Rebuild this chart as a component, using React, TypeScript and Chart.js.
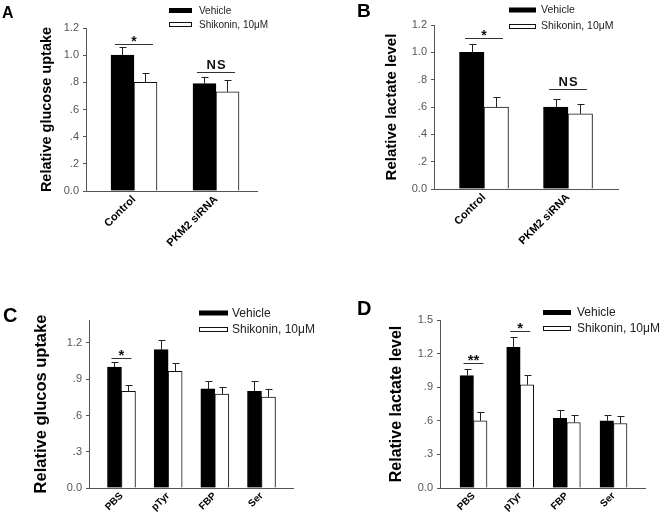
import React, { useEffect, useRef } from "react";
import { Chart, registerables } from "chart.js";

Chart.register(...registerables);

const FONT = "'Liberation Sans', Arial, Helvetica, sans-serif";
const AXIS = "#555";
const seriesNames = ["Vehicle", "Shikonin, 10\u03bcM"];

// ---- Panel A : relative glucose uptake ----
const aCategories = ["Control", "PKM2 siRNA"];
const aVehicle = [1.0, 0.79];
const aVehicleErr = [1.06, 0.84];
const aShikonin = [0.8, 0.73];
const aShikoninErr = [0.87, 0.82];
const aTicks = [0, 0.2, 0.4, 0.6, 0.8, 1.0, 1.2];
const aTickLabels = ["0.0", ".2", ".4", ".6", ".8", "1.0", "1.2"];
const aSigCategory = [0, 1];
const aSigValue = [1.08, 0.875];
const aSigLabel = ["*", "NS"];

// ---- Panel B : relative lactate level ----
const bCategories = ["Control", "PKM2 siRNA"];
const bVehicle = [1.0, 0.6];
const bVehicleErr = [1.06, 0.655];
const bShikonin = [0.6, 0.55];
const bShikoninErr = [0.67, 0.625];
const bTicks = [0, 0.2, 0.4, 0.6, 0.8, 1.0, 1.2];
const bTickLabels = ["0.0", ".2", ".4", ".6", ".8", "1.0", "1.2"];
const bSigCategory = [0, 1];
const bSigValue = [1.105, 0.73];
const bSigLabel = ["*", "NS"];

// ---- Panel C : relative glucos uptake ----
const cCategories = ["PBS", "pTyr", "FBP", "Ser"];
const cVehicle = [1.0, 1.145, 0.82, 0.8];
const cVehicleErr = [1.04, 1.228, 0.888, 0.888];
const cShikonin = [0.8, 0.966, 0.778, 0.753];
const cShikoninErr = [0.852, 1.034, 0.839, 0.819];
const cTicks = [0, 0.3, 0.6, 0.9, 1.2];
const cTickLabels = ["0.0", ".3", ".6", ".9", "1.2"];
const cSigCategory = [0];
const cSigValue = [1.078];
const cSigLabel = ["*"];

// ---- Panel D : relative lactate level ----
const dCategories = ["PBS", "pTyr", "FBP", "Ser"];
const dVehicle = [1.004, 1.256, 0.621, 0.6];
const dVehicleErr = [1.06, 1.345, 0.692, 0.65];
const dShikonin = [0.6, 0.921, 0.585, 0.576];
const dShikoninErr = [0.677, 1.01, 0.653, 0.647];
const dTicks = [0, 0.3, 0.6, 0.9, 1.2, 1.5];
const dTickLabels = ["0.0", ".3", ".6", ".9", "1.2", "1.5"];
const dSigCategory = [0, 1];
const dSigValue = [1.116, 1.4];
const dSigLabel = ["**", "*"];

type Panel = {
  letter: string;
  letterSize: number;
  letterX: number;
  letterY: number;
  categories: string[];
  vehicle: number[];
  vehicleErr: number[];
  shikonin: number[];
  shikoninErr: number[];
  yMax: number;
  ticks: number[];
  tickLabels: string[];
  yTitle: string;
  yTitleSize: number;
  yTitleX: number;
  area: { left: number; right: number; top: number; bottom: number };
  catPad: [number, number];
  barThickness: number;
  xFont: number;
  xPad: number;
  legend: { x: number; w: number; y1: number; y2: number; textX: number; font: number };
  sigCategory: number[];
  sigValue: number[];
  sigLabel: string[];
  sigHalf: number;
  starFont: number;
  nsFont: number;
  capHalf: number;
  left: number;
  top: number;
};

const panels: Panel[] = [
  {
    letter: "A", letterSize: 16, letterX: 2, letterY: 18,
    categories: aCategories, vehicle: aVehicle, vehicleErr: aVehicleErr,
    shikonin: aShikonin, shikoninErr: aShikoninErr,
    yMax: 1.2, ticks: aTicks, tickLabels: aTickLabels,
    yTitle: "Relative glucose uptake", yTitleSize: 14.5, yTitleX: 47,
    area: { left: 86, right: 257, top: 28, bottom: 191 },
    catPad: [0.585, 0.5], barThickness: 23, xFont: 11, xPad: 2,
    legend: { x: 169, w: 23, y1: 10.5, y2: 24.5, textX: 199, font: 10 },
    sigCategory: aSigCategory, sigValue: aSigValue, sigLabel: aSigLabel,
    sigHalf: 19, starFont: 14, nsFont: 13, capHalf: 3,
    left: 0, top: 0,
  },
  {
    letter: "B", letterSize: 19, letterX: 27, letterY: 17,
    categories: bCategories, vehicle: bVehicle, vehicleErr: bVehicleErr,
    shikonin: bShikonin, shikoninErr: bShikoninErr,
    yMax: 1.2, ticks: bTicks, tickLabels: bTickLabels,
    yTitle: "Relative lactate level", yTitleSize: 15, yTitleX: 62,
    area: { left: 104, right: 288, top: 25, bottom: 189 },
    catPad: [0.595, 0.595], barThickness: 24.5, xFont: 11, xPad: 2,
    legend: { x: 179, w: 27, y1: 10, y2: 26, textX: 211, font: 10.5 },
    sigCategory: bSigCategory, sigValue: bSigValue, sigLabel: bSigLabel,
    sigHalf: 19, starFont: 14, nsFont: 13, capHalf: 3,
    left: 330, top: 0,
  },
  {
    letter: "C", letterSize: 20, letterX: 3, letterY: 62,
    categories: cCategories, vehicle: cVehicle, vehicleErr: cVehicleErr,
    shikonin: cShikonin, shikoninErr: cShikoninErr,
    yMax: 1.39, ticks: cTicks, tickLabels: cTickLabels,
    yTitle: "Relative glucos uptake", yTitleSize: 16.5, yTitleX: 41,
    area: { left: 89, right: 293, top: 60, bottom: 228 },
    catPad: [0.696, 0.675], barThickness: 14, xFont: 10, xPad: 2,
    legend: { x: 199, w: 29, y1: 53, y2: 69, textX: 232, font: 12 },
    sigCategory: cSigCategory, sigValue: cSigValue, sigLabel: cSigLabel,
    sigHalf: 10, starFont: 15, nsFont: 13, capHalf: 3,
    left: 0, top: 260,
  },
  {
    letter: "D", letterSize: 20, letterX: 27, letterY: 55,
    categories: dCategories, vehicle: dVehicle, vehicleErr: dVehicleErr,
    shikonin: dShikonin, shikoninErr: dShikoninErr,
    yMax: 1.5, ticks: dTicks, tickLabels: dTickLabels,
    yTitle: "Relative lactate level", yTitleSize: 16, yTitleX: 67,
    area: { left: 110, right: 315, top: 60, bottom: 228 },
    catPad: [0.718, 0.675], barThickness: 13.5, xFont: 10, xPad: 2,
    legend: { x: 213, w: 28, y1: 52.5, y2: 68, textX: 247, font: 12 },
    sigCategory: dSigCategory, sigValue: dSigValue, sigLabel: dSigLabel,
    sigHalf: 10, starFont: 15, nsFont: 13, capHalf: 3,
    left: 330, top: 260,
  },
];

const W = 330;
const H = 260;

function makeDecor(p: Panel) {
  return {
    id: "panelDecor" + p.letter,
    afterDatasetsDraw(chart: any) {
      const ctx = chart.ctx as CanvasRenderingContext2D;
      const ys = chart.scales.y;
      const xs = chart.scales.x;
      const errs = [p.vehicleErr, p.shikoninErr];
      ctx.save();
      ctx.strokeStyle = "#222";
      ctx.lineWidth = 1;
      chart.data.datasets.forEach((ds: any, di: number) => {
        const meta = chart.getDatasetMeta(di);
        meta.data.forEach((bar: any, i: number) => {
          const x = Math.round(bar.x) + 0.5;
          const yTop = ys.getPixelForValue(ds.data[i]);
          const yErr = Math.round(ys.getPixelForValue(errs[di][i])) + 0.5;
          ctx.beginPath();
          ctx.moveTo(x, yTop);
          ctx.lineTo(x, yErr);
          ctx.moveTo(x - p.capHalf, yErr);
          ctx.lineTo(x + p.capHalf + 1, yErr);
          ctx.stroke();
        });
      });
      // significance markers
      ctx.strokeStyle = "#333";
      ctx.fillStyle = "#111";
      ctx.textAlign = "center";
      ctx.textBaseline = "alphabetic";
      p.sigCategory.forEach((c, i) => {
        const cx = xs.getPixelForValue(c);
        const y = Math.round(ys.getPixelForValue(p.sigValue[i])) + 0.5;
        ctx.beginPath();
        ctx.moveTo(cx - p.sigHalf, y);
        ctx.lineTo(cx + p.sigHalf, y);
        ctx.stroke();
        const lab = p.sigLabel[i];
        if (lab.includes("*")) {
          ctx.font = `bold ${p.starFont}px ${FONT}`;
          ctx.fillText(lab, cx, y + 1);
        } else {
          ctx.font = `bold ${p.nsFont}px ${FONT}`;
          ctx.fillText(lab.split("").join("\u200A"), cx, y - 4);
        }
      });
      ctx.restore();
    },
    afterDraw(chart: any) {
      const ctx = chart.ctx as CanvasRenderingContext2D;
      ctx.save();
      // panel letter
      ctx.fillStyle = "#000";
      ctx.textAlign = "left";
      ctx.textBaseline = "alphabetic";
      ctx.font = `bold ${p.letterSize}px ${FONT}`;
      ctx.fillText(p.letter, p.letterX, p.letterY);
      // legend
      const lg = p.legend;
      ctx.fillStyle = "#000";
      ctx.fillRect(lg.x, lg.y1 - 2.5, lg.w, 5);
      ctx.fillStyle = "#fff";
      ctx.fillRect(lg.x, lg.y2 - 2.5, lg.w, 5);
      ctx.strokeStyle = "#111";
      ctx.lineWidth = 1;
      ctx.strokeRect(lg.x + 0.5, Math.round(lg.y2 - 2.5) + 0.5, lg.w - 1, 4);
      ctx.fillStyle = "#222";
      ctx.font = `${lg.font}px ${FONT}`;
      ctx.textBaseline = "middle";
      ctx.fillText(chart.data.datasets[0].label, lg.textX, lg.y1 + 0.5);
      ctx.fillText(chart.data.datasets[1].label, lg.textX, lg.y2 + 0.5);
      ctx.restore();
    },
  };
}

function PanelChart({ p }: { p: Panel }) {
  const ref = useRef<HTMLCanvasElement>(null);
  useEffect(() => {
    const canvas = ref.current;
    if (!canvas) return;
    const chart = new Chart(canvas, {
      type: "bar",
      data: {
        labels: p.categories,
        datasets: [
          {
            label: seriesNames[0],
            data: p.vehicle,
            backgroundColor: "#000",
            borderColor: "#000",
            borderWidth: 1,
            barThickness: p.barThickness,
          },
          {
            label: seriesNames[1],
            data: p.shikonin,
            backgroundColor: "#fff",
            borderColor: "#111",
            borderWidth: 1,
            barThickness: p.barThickness,
          },
        ],
      },
      options: {
        animation: false,
        responsive: false,
        devicePixelRatio: 1,
        layout: {
          padding: { left: 0, top: p.area.top, right: W - p.area.right, bottom: 0 },
        },
        plugins: {
          legend: { display: false },
          tooltip: { enabled: false },
        },
        scales: {
          x: {
            offset: true,
            grid: { display: false, drawTicks: false },
            border: { display: true, color: AXIS, width: 1 },
            ticks: {
              color: "#000",
              font: { family: FONT, size: p.xFont, weight: "bold" },
              minRotation: 45,
              maxRotation: 45,
              autoSkip: false,
              padding: p.xPad,
            },
            afterBuildTicks: (s: any) => {
              s._startValue = -p.catPad[0];
              s._valueRange = p.categories.length - 1 + p.catPad[0] + p.catPad[1];
            },
            afterFit: (s: any) => {
              s.height = H - p.area.bottom;
            },
          },
          y: {
            min: 0,
            max: p.yMax,
            grid: { drawOnChartArea: false, drawTicks: true, tickLength: 3, color: AXIS },
            border: { display: true, color: AXIS, width: 1 },
            ticks: {
              color: "#555",
              font: { family: FONT, size: 11 },
              padding: 4,
              callback: (v: any) => {
                const i = p.ticks.findIndex((t) => Math.abs(t - Number(v)) < 1e-6);
                return i >= 0 ? p.tickLabels[i] : "";
              },
            },
            afterBuildTicks: (s: any) => {
              s.ticks = p.ticks.map((v) => ({ value: v }));
            },
            afterFit: (s: any) => {
              s.width = p.area.left;
            },
            title: {
              display: true,
              text: p.yTitle,
              color: "#000",
              font: { family: FONT, size: p.yTitleSize, weight: "bold", lineHeight: 1.2 },
              padding: { top: p.yTitleX - p.yTitleSize * 0.6, bottom: 0 },
            },
          },
        },
      },
      plugins: [makeDecor(p)],
    } as any);
    return () => chart.destroy();
  }, [p]);
  return (
    <canvas
      ref={ref}
      width={W}
      height={H}
      style={{ position: "absolute", left: p.left, top: p.top, width: W, height: H }}
    />
  );
}

export default function App() {
  return (
    <div
      style={{
        position: "absolute",
        left: 0,
        top: 0,
        width: 660,
        height: 520,
        background: "#fff",
        overflow: "hidden",
      }}
    >
      {panels.map((p) => (
        <PanelChart key={p.letter} p={p} />
      ))}
    </div>
  );
}
